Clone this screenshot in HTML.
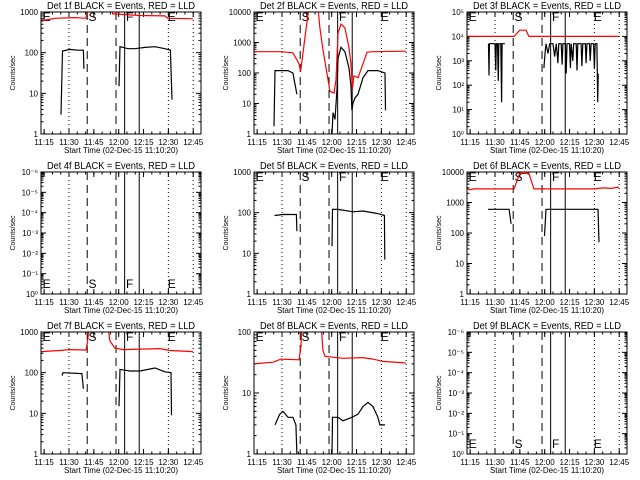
<!DOCTYPE html>
<html><head><meta charset="utf-8"><style>
html,body{margin:0;padding:0;background:#fff;}
svg{display:block;font-family:"Liberation Sans",sans-serif;}
</style></head><body>
<svg id="chart" width="640" height="480" viewBox="0 0 640 480"></svg>
<script>
// ---- data (times in minutes after 11:00, values in counts/sec) ----
const detNames = ["1f","2f","3f","4f","5f","6f","7f","8f","9f"];
const xTickLabels = ["11:15","11:30","11:45","12:00","12:15","12:30","12:45"];
const xTickTimes = [15,30,45,60,75,90,105];
const dottedTimes = [30,90,105];
const dashedTimes = [41.0,58.4];
const solidTimes = [63.6,72.4];
const letterLabels = ["E","S","F","E"];
const letterTimes = [13.5,41.2,63.8,89.0];
const yDecades = [[0,3],[0,4],[0,5],[-6,0],[0,3],[0,4],[0,3],[0,2],[-6,0]];

const b1t=[25.2,26.1,30.6,35.4,38.7,39.0,null,60.2,60.8,65.6,69.8,75.9,81.9,87.9,91.2,92.2];
const b1v=[3,110,120,115,115,40,null,15,140,125,125,135,140,125,115,7];
const r1t=[13.1,14.9,21.5,33.6,40.3,41.2,56.0,56.3,72.9,87.9,89.7,104.8];
const r1v=[650,620,700,730,700,1500,1500,900,820,800,700,680];

const b2t=[25.2,25.8,33.6,36.6,39.0,null,60.2,60.8,62.0,63.2,63.8,65.6,68.0,70.4,71.6,72.2,72.8,74.0,75.9,78.9,81.9,87.9,92.2,92.5];
const b2v=[1.8,120,120,100,20,null,1,5,3,30,300,700,500,150,40,6,10,15,20,70,120,120,100,6];
const r2t=[13.1,29.4,36.6,40.3,41.2,42.1,43.9,46.3,51.7,52.9,54.7,56.6,59.0,61.4,62.6,63.8,65.6,68.0,70.4,71.6,72.5,73.4,75.9,78.9,81.3,84.9,104.8];
const r2v=[500,500,460,200,110,250,1500,15000,15000,3000,600,150,25,22,60,2000,4000,3000,700,200,30,80,70,200,480,500,520];

const b3t=[26.1,26.4,26.6,28,30,30.5,30.8,31.5,32,32.3,33.5,34,34.3,36,null,59.5,60.2,60.8,62,63,65,66,67,68,68.5,70,70.5,71,72.5,73,73.5,75,75.5,76,77,77.5,79,79.5,80,82,82.5,83,84.5,85,85.5,87,87.5,88,89.5,90,90.5,91.5,92,92.3];
const b3v=[5000,250,5000,5000,5000,400,5000,5000,150,5000,5000,20,5000,5000,null,500,2000,5000,2000,5000,5000,1500,5000,800,5000,5000,700,5000,5000,300,5000,5000,500,5000,1000,5000,5000,400,5000,5000,600,5000,5000,800,5000,5000,1000,5000,5000,500,5000,5000,20,300];
const r3t=[13.1,41.5,45.0,48.7,50.5,104.8];
const r3v=[10000,10000,18000,18000,10000,10000];

const b5t=[25.5,30.6,38.7,39.0,null,60.2,60.5,63.8,72.9,78.9,87.9,91.8,92.1];
const b5v=[85,90,90,35,null,15,120,120,105,110,95,85,7];

const b6t=[25.8,38.5,39.7,null,59.9,60.8,92.2,92.8];
const b6v=[600,600,200,null,80,600,600,50];
const r6t=[13.1,15,17,41.5,45.0,50.5,53.5,60,80,90,95,100,104.8];
const r6v=[2800,2600,2800,2800,9000,9000,2800,2800,2800,2800,3000,2900,3200];

const b7t=[25.8,26.4,37.8,38.7,null,60.2,60.8,66.8,72.9,81.9,87.9,91.6,91.9];
const b7v=[85,100,95,40,null,15,120,110,110,130,105,100,9];
const r7t=[13.1,24.6,30.6,40.3,41.5,42.1,53.5,54.7,57.8,62.8,84.9,90.9,104.8];
const r7v=[330,350,370,360,700,1500,1500,600,400,370,390,350,330];

const b8t=[25.8,28.6,30.6,33.6,36.6,38.4,39.0,null,60.2,60.5,63.8,66.8,72.2,75.9,78.9,81.9,84.9,87.9,89.1,92.2];
const b8v=[3,4.5,5,4,4,3,1,null,1,4,4,3.5,4,4.5,6,7,6,4,3,3];
const r8t=[13.1,24.6,29.4,40.3,41.5,42.1,53.5,54.7,56.0,66.8,78.9,84.9,90.9,104.8];
const r8v=[30,32,36,35,60,150,150,50,40,37,38,36,33,31];

const blackT=[b1t,b2t,b3t,null,b5t,b6t,b7t,b8t,null];
const blackV=[b1v,b2v,b3v,null,b5v,b6v,b7v,b8v,null];
const redT=[r1t,r2t,r3t,null,null,r6t,r7t,r8t,null];
const redV=[r1v,r2v,r3v,null,null,r6v,r7v,r8v,null];

// ---- rendering ----
const NS="http://www.w3.org/2000/svg";
const svg=document.getElementById("chart");
function mk(tag,attrs,parent){const e=document.createElementNS(NS,tag);for(const k in attrs)e.setAttribute(k,attrs[k]);(parent||svg).appendChild(e);return e;}
const PW=160,PH=122,T0=13.1,T1=109.7;
const supMap={"-":"⁻","0":"⁰","1":"¹","2":"²","3":"³","4":"⁴","5":"⁵","6":"⁶"};
function sup(n){return String(n).split("").map(c=>supMap[c]).join("");}

for(let p=0;p<9;p++){
  const col=p%3,row=Math.floor(p/3);
  const Y0=12+row*160;
  const px0 = col===0?41:(col===1?254:467);
  const g=mk("g",{});
  
  
  const [d0,d1]=yDecades[p];
  const xs=t=>px0+(t-T0)/(T1-T0)*PW;
  const ys=v=>Y0+PH-(Math.log10(v)-d0)/(d1-d0)*PH;
  const cid="clip"+p;
  const cp=mk("clipPath",{id:cid},g);mk("rect",{x:px0,y:Y0,width:PW,height:PH},cp);
  const ti=mk("text",{x:px0+PW/2,y:Y0-3,"text-anchor":"middle","font-size":"10",textLength:"148",lengthAdjust:"spacingAndGlyphs"},g);
  ti.textContent="Det "+detNames[p]+" BLACK = Events, RED = LLD";
  
  
  const yt=mk("text",{x:0,y:0,"text-anchor":"middle","font-size":"7",transform:`translate(${px0-26},${Y0+PH/2}) rotate(-90)`},g);
  yt.textContent="Counts/sec";
  
  
  const nd=d1-d0;
  for(let d=d0;d<=d1;d++){
    const k=d-d0;
    const y=Y0+PH-k/nd*PH;
    mk("line",{x1:px0,x2:px0+5,y1:y,y2:y,stroke:"#000"},g);
    mk("line",{x1:px0+PW-5,x2:px0+PW,y1:y,y2:y,stroke:"#000"},g);
    const lab=mk("text",{x:px0-3,y:y+3,"text-anchor":"end","font-size":"8"},g);
    if(p===2) lab.textContent="10"+sup(d);
    else if(p===3||p===8) lab.textContent="10"+sup(k===0?0:-k);
    else lab.textContent=String(Math.round(Math.pow(10,d)));
    
    
    if(d<d1){for(let m=2;m<=9;m++){const yy=Y0+PH-(k+Math.log10(m))/nd*PH;
      mk("line",{x1:px0,x2:px0+2.5,y1:yy,y2:yy,stroke:"#000"},g);
      mk("line",{x1:px0+PW-2.5,x2:px0+PW,y1:yy,y2:yy,stroke:"#000"},g);}}
  }
  for(let i=0;i<xTickTimes.length;i++){
    const x=xs(xTickTimes[i]);
    mk("line",{x1:x,x2:x,y1:Y0+PH,y2:Y0+PH-5,stroke:"#000"},g);
    mk("line",{x1:x,x2:x,y1:Y0,y2:Y0+5,stroke:"#000"},g);
    const lab=mk("text",{x:x,y:Y0+PH+11,"text-anchor":"middle","font-size":"8"},g);
    lab.textContent=xTickLabels[i];
    
    
  }
  for(let t=15;t<=108;t+=5){const x=xs(t);
    mk("line",{x1:x,x2:x,y1:Y0+PH,y2:Y0+PH-2.5,stroke:"#000"},g);
    mk("line",{x1:x,x2:x,y1:Y0,y2:Y0+2.5,stroke:"#000"},g);}
  const xt=mk("text",{x:px0+PW/2,y:Y0+PH+19,"text-anchor":"middle","font-size":"8"},g);
  xt.textContent="Start Time (02-Dec-15 11:10:20)";
  
  
  dottedTimes.forEach(t=>{const l=mk("line",{x1:xs(t),x2:xs(t),y1:Y0,y2:Y0+PH,stroke:"#000","stroke-dasharray":"1,3"},g);
    });
  dashedTimes.forEach(t=>{const l=mk("line",{x1:xs(t),x2:xs(t),y1:Y0,y2:Y0+PH,stroke:"#000","stroke-dasharray":"8,5"},g);
    });
  solidTimes.forEach(t=>{const l=mk("line",{x1:xs(t),x2:xs(t),y1:Y0,y2:Y0+PH,stroke:"#000"},g);
    });
  const bottom=(p===3||p===8);
  for(let i=0;i<4;i++){
    const lt=mk("text",{x:xs(letterTimes[i])+1,y:bottom?Y0+PH-6:Y0+9,"font-size":"12"},g);
    lt.textContent=letterLabels[i];
    
    
  }
  function series(ts,vs,color,name){
    if(!ts)return;
    let d="",pen=false;
    for(let i=0;i<ts.length;i++){
      if(ts[i]===null||vs[i]===null){pen=false;continue;}
      d+=(pen?"L":"M")+xs(ts[i]).toFixed(1)+","+ys(vs[i]).toFixed(1);pen=true;
    }
    const path=mk("path",{d:d,fill:"none",stroke:color,"stroke-width":"1.2","clip-path":`url(#${cid})`},g);
    
    
  }
  series(redT[p],redV[p],"#ff0000","red-lld-series");
  series(blackT[p],blackV[p],"#000000","black-events-series");
  const fr=mk("rect",{x:px0,y:Y0,width:PW,height:PH,fill:"none",stroke:"#000","stroke-width":"1"},g);
  
  
}
</script>
</body></html>
